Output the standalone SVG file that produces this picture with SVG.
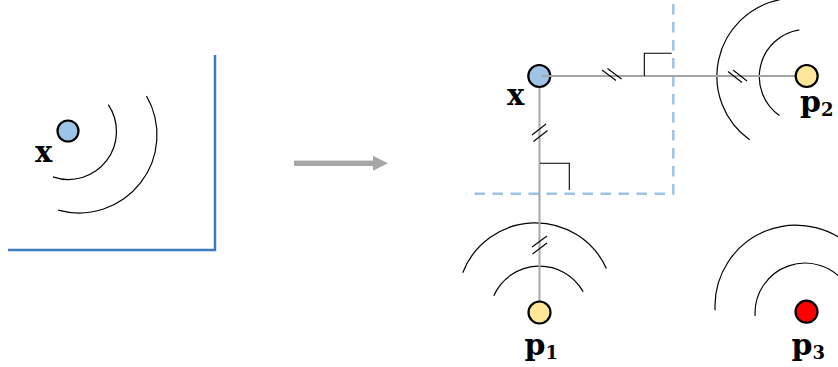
<svg xmlns="http://www.w3.org/2000/svg" width="838" height="367" viewBox="0 0 838 367">
  <style>
    .wave { fill: none; stroke: #000; stroke-width: 1.2; }
    .tick { fill: none; stroke: #000; stroke-width: 1.1; }
    .conn { fill: none; stroke: #a6a6a6; stroke-width: 2; }
    .node { stroke: #000; stroke-width: 2.2; }
    .blue { fill: #9dc3e6; }
    .yellow { fill: #ffe699; }
    .red { fill: #ff0000; }
    .lbl { font-family: "DejaVu Serif", "Liberation Serif", serif; font-weight: bold; fill: #000; }
    .wall { fill: none; stroke: #3d7abf; stroke-width: 2.5; }
    .dash { fill: none; stroke: #9dc3e6; stroke-width: 2.5; stroke-dasharray: 10.5 7.5; }
  </style>

  <!-- Left panel -->
  <g id="left-wall">
    <path class="wall" d="M215,55 V250 H8"/>
  </g>
  <g id="left-waves">
    <path class="wave" d="M108.3,104.7 A48,48 0 0 1 52.9,176.9"/>
    <path class="wave" d="M146.5,96 A78,78 0 0 1 58.2,210.2"/>
  </g>
  <g id="node-x-left">
    <circle class="node blue" cx="68" cy="131" r="10.5"/>
    <text class="lbl" x="35" y="162" font-size="29">x</text>
  </g>

  <!-- Transition arrow -->
  <g id="arrow">
    <rect x="294" y="160.6" width="80" height="5.4" fill="#a6a6a6"/>
    <polygon points="373,155.8 388,163.3 373,170.8" fill="#a6a6a6"/>
  </g>

  <!-- Right panel: dashed boundary -->
  <g id="boundary">
    <path class="dash" d="M673.3,-14 V193.7 H466.7"/>
  </g>

  <!-- Waves around p1, p2, p3 -->
  <g id="waves">
    <path class="wave" d="M799.3,29.8 A47.5,47.5 0 0 0 779.5,115.6"/>
    <path class="wave" d="M779.8,-0.3 A78,78 0 0 0 749.7,139.8"/>
    <path class="wave" d="M493.8,295.7 A50,50 0 0 1 583.2,291.8"/>
    <path class="wave" d="M462.7,272.7 A78,78 0 0 1 606.4,268.4"/>
    <path class="wave" d="M755.1,315.9 A50,50 0 0 1 845.9,284.3"/>
    <path class="wave" d="M715.1,310.2 A81,81 0 0 1 858,254"/>
  </g>

  <g id="node-x">
    <circle class="node blue" cx="539.3" cy="76" r="11"/>
    <text class="lbl" x="507" y="104.5" font-size="29">x</text>
  </g>

  <!-- Connectors -->
  <g id="connectors">
    <line class="conn" x1="541" y1="76" x2="796" y2="76"/>
    <line class="conn" x1="539.5" y1="88" x2="539.5" y2="301"/>
    <!-- equal-distance ticks -->
    <line class="tick" x1="602" y1="70" x2="616" y2="80.5"/>
    <line class="tick" x1="607.5" y1="68.5" x2="621.5" y2="79"/>
    <line class="tick" x1="728" y1="71.5" x2="742" y2="82.5"/>
    <line class="tick" x1="733" y1="70" x2="747" y2="81"/>
    <line class="tick" x1="532" y1="135" x2="546" y2="124"/>
    <line class="tick" x1="533.5" y1="141.5" x2="547.5" y2="130.5"/>
    <line class="tick" x1="532" y1="247" x2="547" y2="236"/>
    <line class="tick" x1="532.5" y1="254" x2="547" y2="243"/>
    <!-- right-angle marks -->
    <polyline class="tick" points="644.3,76 644.3,53.3 671.7,53.3"/>
    <polyline class="tick" points="540,163.3 569.3,163.3 569.3,190"/>
  </g>

  <g id="node-p2">
    <circle class="node yellow" cx="806.7" cy="76" r="11"/>
    <text class="lbl" x="800" y="112" font-size="30">p<tspan font-size="18" dy="4">2</tspan></text>
  </g>
  <g id="node-p1">
    <circle class="node yellow" cx="539.5" cy="312.5" r="11"/>
    <text class="lbl" x="524.5" y="355" font-size="30">p<tspan font-size="18" dy="4">1</tspan></text>
  </g>
  <g id="node-p3">
    <circle class="node red" cx="806.5" cy="311.7" r="11"/>
    <text class="lbl" x="791.5" y="355" font-size="30">p<tspan font-size="18" dy="4">3</tspan></text>
  </g>
</svg>
